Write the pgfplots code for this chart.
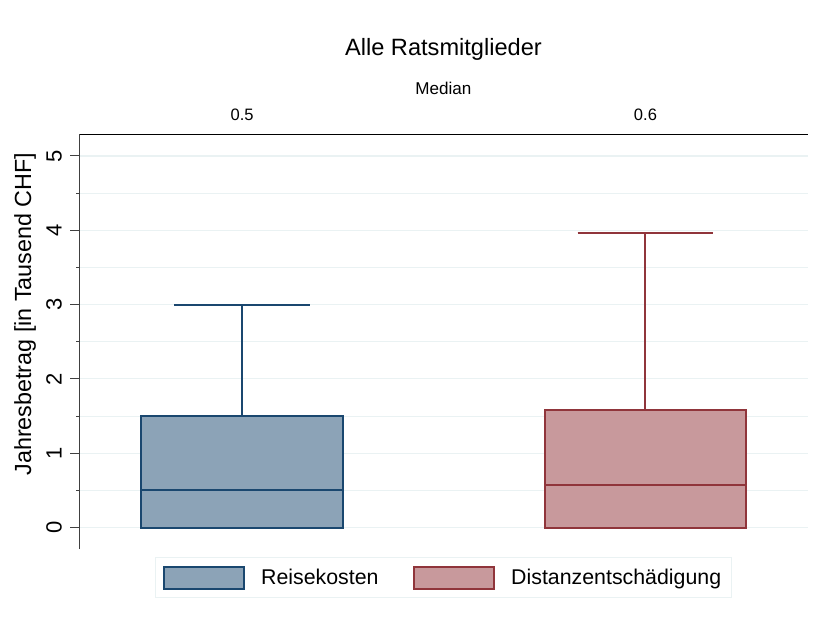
\documentclass[border=0pt]{standalone}
\usepackage{fontspec}
\setmainfont{Liberation Sans}
\usepackage{pgfplots}
\pgfplotsset{compat=1.18}
\usepgfplotslibrary{statistics}
\definecolor{navy}{HTML}{1A476F}
\definecolor{navyfill}{HTML}{8CA3B7}
\definecolor{maroon}{HTML}{90353B}
\definecolor{maroonfill}{HTML}{C8999C}
\definecolor{gridc}{HTML}{EAF2F3}
\pgfplotsset{boxleg/.style={legend image code/.code={\draw[##1] (0pt,-8.25pt) rectangle (60pt,8.25pt);}}}

\begin{document}
\begin{tikzpicture}
\useasboundingbox (0,0) rectangle (615pt,-465.75pt);
\node[anchor=base, font=\fontsize{17.7}{20}\selectfont] at (332.6pt,-41.25pt) {Alle Ratsmitglieder};
\node[anchor=base, font=\fontsize{12.8}{15}\selectfont] at (332.6pt,-70.5pt) {Median};
\begin{axis}[
    at={(59.25pt,-100.5pt)}, anchor=north west,
    scale only axis, width=546.75pt, height=311.25pt,
    xmin=0.5955, xmax=2.403, ymin=-0.289, ymax=5.296,
    boxplot/draw direction=y,
    axis x line*=top, axis y line*=left,
    axis line style={line width=0.75pt},
    y axis line style={draw=black!75},
    xtick={1,2}, xticklabels={0.5,0.6},
    xtick style={draw=none},
    xticklabel style={font=\fontsize{12.4}{15}\selectfont},
    ytick={0,1,2,3,4,5},
    minor ytick={0.5,1.5,2.5,3.5,4.5},
    tick align=outside,
    major tick length=6.75pt, minor tick length=2.25pt,
    ytick style={draw=black!75, line width=0.75pt},
    yticklabel style={rotate=90, anchor=south, inner sep=6pt, font=\fontsize{16.5}{19}\selectfont},
    /pgf/number format/assume math mode=true,
    ymajorgrids, yminorgrids,
    major grid style={gridc, line width=0.8pt},
    minor grid style={gridc, line width=0.8pt},
    ylabel={Jahresbetrag [in Tausend CHF]},
    ylabel style={at={(axis description cs:-0.074,0.566)}, anchor=center, font=\fontsize{17.5}{20}\selectfont},
    legend style={at={(axis description cs:0.5,-0.0193)}, anchor=north,
        draw=gridc, line width=0.8pt, legend columns=2,
        font=\fontsize{16}{19}\selectfont, inner xsep=6pt, inner ysep=6pt,
        /tikz/every odd column/.append style={column sep=10pt},
        /tikz/every even column/.append style={column sep=24pt}},
    legend cell align=left,
]
\addplot[draw=navy, fill=navyfill, line width=1.5pt, forget plot,
    boxplot prepared={draw position=1, median=0.5, upper quartile=1.5,
        lower quartile=0, upper whisker=3, lower whisker=0,
        box extend=0.5, whisker extend=0.337}] coordinates {};
\addplot[draw=maroon, fill=maroonfill, line width=1.5pt, forget plot,
    boxplot prepared={draw position=2, median=0.57, upper quartile=1.58,
        lower quartile=0, upper whisker=3.97, lower whisker=0,
        box extend=0.5, whisker extend=0.337}] coordinates {};
\addlegendimage{boxleg, draw=navy, fill=navyfill, line width=1.5pt}
\addlegendentry{Reisekosten}
\addlegendimage{boxleg, draw=maroon, fill=maroonfill, line width=1.5pt}
\addlegendentry{Distanzentschädigung}
\end{axis}
\end{tikzpicture}
\end{document}
